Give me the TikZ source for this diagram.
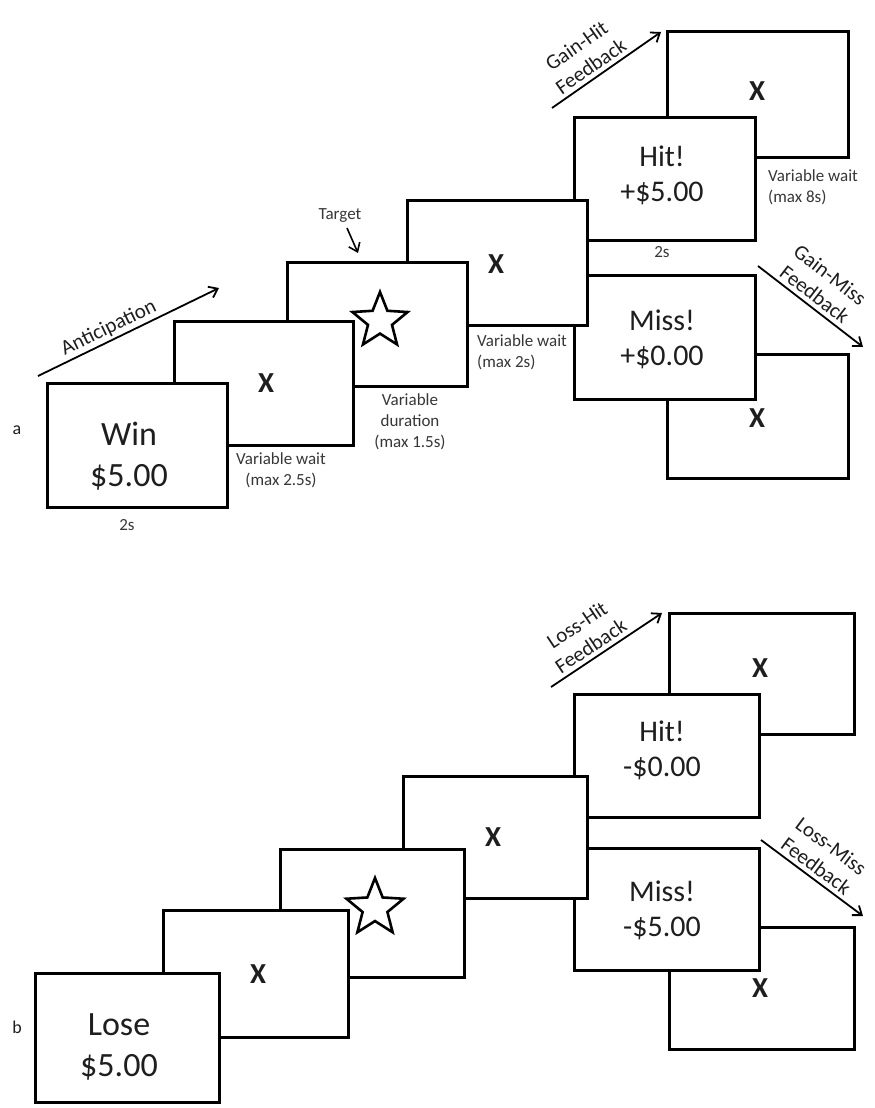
\documentclass[tikz,border=0pt]{standalone}
\usepackage{fontspec}
\setmainfont{Carlito}
\usetikzlibrary{shapes.geometric,arrows.meta,fit}
\definecolor{txt}{RGB}{30,30,30}
\definecolor{smalltxt}{RGB}{55,55,55}
\newcommand\scrbox[5]{\node[box, fit={(#2,#3) (#4,#5)}] (#1) {};}
\begin{document}
\begin{tikzpicture}[x=1pt,y=-1pt,
  box/.style={draw, line width=3pt, fill=white, inner sep=0pt, minimum size=0pt},
  big/.style={font=\fontsize{34}{41}\selectfont, text=txt, align=center, inner sep=0pt},
  mid/.style={font=\fontsize{30}{35}\selectfont, text=txt, align=center, inner sep=0pt},
  xmark/.style={font=\bfseries\fontsize{29}{30}\selectfont, text=txt, inner sep=0pt},
  small/.style={font=\fontsize{17}{21}\selectfont, text=smalltxt, inner sep=0pt},
  lbl/.style={font=\fontsize{21}{25}\selectfont, text=txt, align=center, inner sep=4pt},
  arr/.style={-{Straight Barb[length=8pt,width=12pt]}, line width=1.8pt},
  starshape/.style={star, star points=5, star point ratio=2.3, draw, line width=2.6pt, inner sep=0pt},
  panel/.style={font=\fontsize{18}{20}\selectfont, text=txt, inner sep=0pt}
]
\useasboundingbox (0,0) rectangle (875,1108);
\fill[white] (0,0) rectangle (875,1108);

% ---------------- Panel a ----------------
\scrbox{aTR}{667}{32}{848}{157}
\scrbox{aBR}{667}{354}{848}{478}
\scrbox{aHit}{574}{117}{755}{240}
\scrbox{aMiss}{574}{275}{755}{399}
\scrbox{aX4}{407}{200}{587}{325}
\scrbox{aStar}{287}{262}{467}{386}
\scrbox{aX2}{174}{321}{353}{445}
\scrbox{aWin}{47}{383}{227}{507}

\node[panel] (la) at (17,430) {a};
\node[big] (tWin) at (129,456) {Win\\\$5.00};
\node[small] (t2sa) at (127,525) {2s};
\node[xmark] (xa2) at (266,383) {X};
\node[small, align=center] (twa1) at (281,470) {Variable wait\\(max 2.5s)};
\node[starshape, minimum size=58pt] (sa) at (380,321) {};
\node[small, align=center] (tda) at (410,422) {Variable\\duration\\(max 1.5s)};
\node[small] (tTarget) at (340,216) {Target};
\coordinate (tgS) at (347,228);
\coordinate (tgEnd) at (358,253);
\draw[arr, line width=1.6pt] (tgS) -- (tgEnd);
\node[xmark] (xa4) at (496,264) {X};
\node[small, align=left, anchor=west] (twa2) at (477,352) {Variable wait\\(max 2s)};
\node[mid] (tHitA) at (662,175) {Hit!\\+\$5.00};
\node[small] (t2sb) at (662,252) {2s};
\node[small, align=left, anchor=west] (twa3) at (768,187) {Variable wait\\(max 8s)};
\node[xmark] (xaTR) at (757,91) {X};
\node[mid] (tMissA) at (662,339) {Miss!\\+\$0.00};
\node[xmark] (xaBR) at (757,418) {X};

\coordinate (antS) at (38,376);
\coordinate (antE) at (219,288);
\draw[arr] (antS) -- node[lbl, sloped, above, pos=0.42, inner sep=2pt] {Anticipation} (antE);
\coordinate (ghS) at (552,108);
\coordinate (ghE) at (661,32);
\draw[arr] (ghS) -- node[lbl, sloped, above, pos=0.42] {Gain-Hit\\Feedback} (ghE);
\coordinate (gmS) at (758,266);
\coordinate (gmE) at (863,347);
\draw[arr] (gmS) -- node[lbl, sloped, above, pos=0.47] {Gain-Miss\\Feedback} (gmE);

% ---------------- Panel b ----------------
\scrbox{bTR}{669}{613}{854}{734}
\scrbox{bBR}{669}{927}{854}{1049}
\scrbox{bHit}{574}{694}{759}{817}
\scrbox{bMiss}{574}{848}{759}{970}
\scrbox{bX4}{403}{776}{587}{898}
\scrbox{bStar}{280}{849}{464}{977}
\scrbox{bX2}{163}{910}{348}{1037}
\scrbox{bLose}{35}{973}{219}{1102}

\node[panel] (lb) at (17,1027) {b};
\node[big] (tLose) at (119,1047) {Lose\\\$5.00};
\node[xmark] (xb2) at (258,974) {X};
\node[starshape, minimum size=60pt] (sb) at (375,908) {};
\node[xmark] (xb4) at (493,837) {X};
\node[mid] (tHitB) at (662,750) {Hit!\\-\$0.00};
\node[mid] (tMissB) at (662,910) {Miss!\\-\$5.00};
\node[xmark] (xbTR) at (760,668) {X};
\node[xmark] (xbBR) at (760,988) {X};

\coordinate (lhS) at (551,687);
\coordinate (lhE) at (662,613);
\draw[arr] (lhS) -- node[lbl, sloped, above, pos=0.42] {Loss-Hit\\Feedback} (lhE);
\coordinate (lmS) at (761,840);
\coordinate (lmE) at (863,916);
\draw[arr] (lmS) -- node[lbl, sloped, above, pos=0.47] {Loss-Miss\\Feedback} (lmE);
\end{tikzpicture}
\end{document}
